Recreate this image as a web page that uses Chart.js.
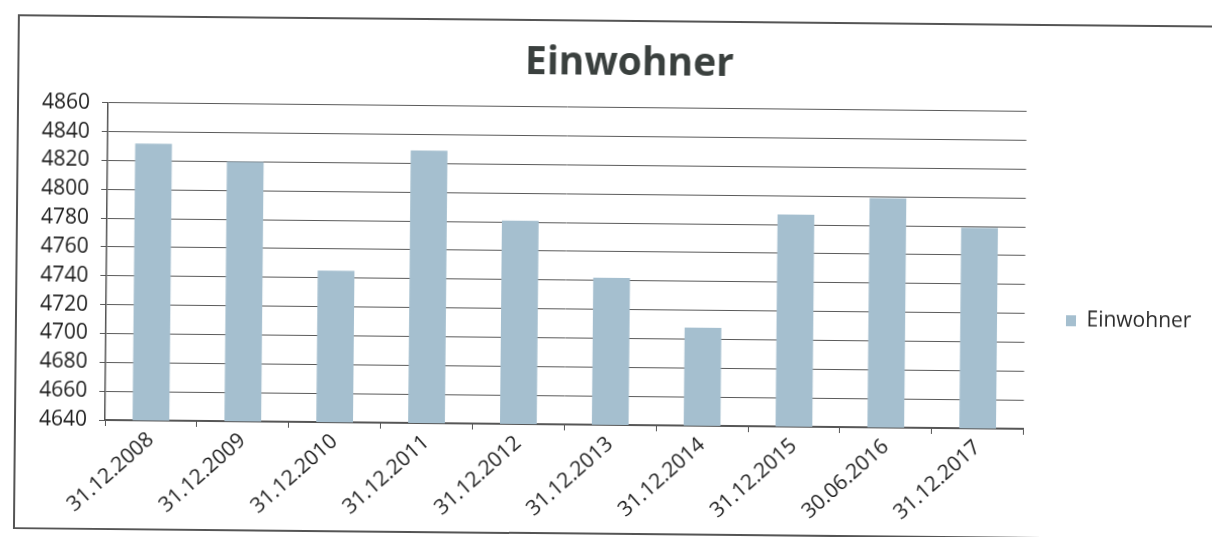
<!DOCTYPE html>
<html lang="de">
<head>
<meta charset="utf-8">
<title>Einwohner</title>
<script src="https://cdn.jsdelivr.net/npm/chart.js@4/dist/chart.umd.min.js"></script>
<style>
  html, body { margin: 0; padding: 0; background: #fff; overflow: hidden; }
  #wrap {
    position: relative; width: 1212px; height: 537px;
    transform-origin: 105px 420px;
    transform: rotate(0.55deg);
  }
  #frame {
    position: absolute; left: 14px; top: 15px; width: 1234px; height: 515px;
    border: 2px solid #555; box-sizing: border-box;
  }
  #c { position: absolute; left: 0; top: 0; }
</style>
</head>
<body>
<div id="wrap">
  <div id="frame"></div>
  <canvas id="c" width="1212" height="537"></canvas>
</div>
<script>
// Stichtage und Einwohnerzahlen
const categories = [
  '31.12.2008', '31.12.2009', '31.12.2010', '31.12.2011', '31.12.2012',
  '31.12.2013', '31.12.2014', '31.12.2015', '30.06.2016', '31.12.2017'
];
const einwohner = [4832, 4820, 4745, 4829, 4781, 4742, 4708, 4787, 4799, 4779];

// Achsenbereich der Werteachse
const yMin = 4640;
const yMax = 4860;
const yStep = 20;

const FONT = "'Open Sans', 'Liberation Sans', sans-serif";

// Lage von Titel und Legende innerhalb der Zeichenfläche
const TITLE_CENTER_X = 626;
const LEGEND_BOX_X = 1065;
const LEGEND_CENTER_Y = 320;

const placement = {
  id: 'placement',
  afterLayout(chart) {
    const lg = chart.legend;
    if (lg) {
      const pad = lg.options.labels.padding;
      const dx = LEGEND_BOX_X - (lg.left + pad);
      lg.left += dx; lg.right += dx;
      const dy = LEGEND_CENTER_Y - (lg.top + lg.bottom + pad) / 2;
      lg.top += dy; lg.bottom += dy;
    }
    const t = chart.titleBlock;
    if (t) {
      const dx = TITLE_CENTER_X - (t.left + t.right) / 2;
      t.left += dx; t.right += dx;
    }
  }
};

new Chart(document.getElementById('c'), {
  type: 'bar',
  data: {
    labels: categories,
    datasets: [{
      label: 'Einwohner',
      data: einwohner,
      backgroundColor: '#a5bfcf',
      borderWidth: 0,
      categoryPercentage: 1.0,
      barPercentage: 0.4
    }]
  },
  plugins: [placement],
  options: {
    responsive: false,
    animation: false,
    devicePixelRatio: 1,
    layout: { padding: { left: 0, right: 36, top: 0, bottom: 0 } },
    plugins: {
      title: {
        display: true,
        text: 'Einwohner',
        color: '#3a403e',
        font: { family: FONT, size: 39, weight: 'bold', lineHeight: 1.2 },
        padding: { top: 35, bottom: 21 }
      },
      legend: {
        position: 'right',
        labels: {
          color: '#2a2a2a',
          font: { family: FONT, size: 21 },
          boxWidth: 10,
          boxHeight: 11,
          padding: 17
        }
      },
      tooltip: { enabled: false }
    },
    scales: {
      x: {
        offset: true,
        grid: {
          display: true,
          offset: true,
          drawOnChartArea: false,
          drawTicks: true,
          tickLength: 6,
          color: '#555'
        },
        border: { display: true, color: '#555', width: 1.5 },
        ticks: {
          color: '#1e1e1e',
          font: { family: FONT, size: 21 },
          minRotation: 42,
          maxRotation: 42,
          autoSkip: false,
          padding: 1
        },
        afterFit(scale) { scale.height = 117; }
      },
      y: {
        min: yMin,
        max: yMax,
        grid: {
          color: '#5a5a5a',
          lineWidth: 1,
          drawTicks: true,
          tickLength: 6
        },
        border: { display: true, color: '#555', width: 1.5 },
        ticks: {
          stepSize: yStep,
          color: '#1e1e1e',
          font: { family: FONT, size: 21 },
          padding: 12,
          callback: (v) => String(v)
        },
        afterFit(scale) { scale.width = 105; }
      }
    }
  }
});
</script>
</body>
</html>
